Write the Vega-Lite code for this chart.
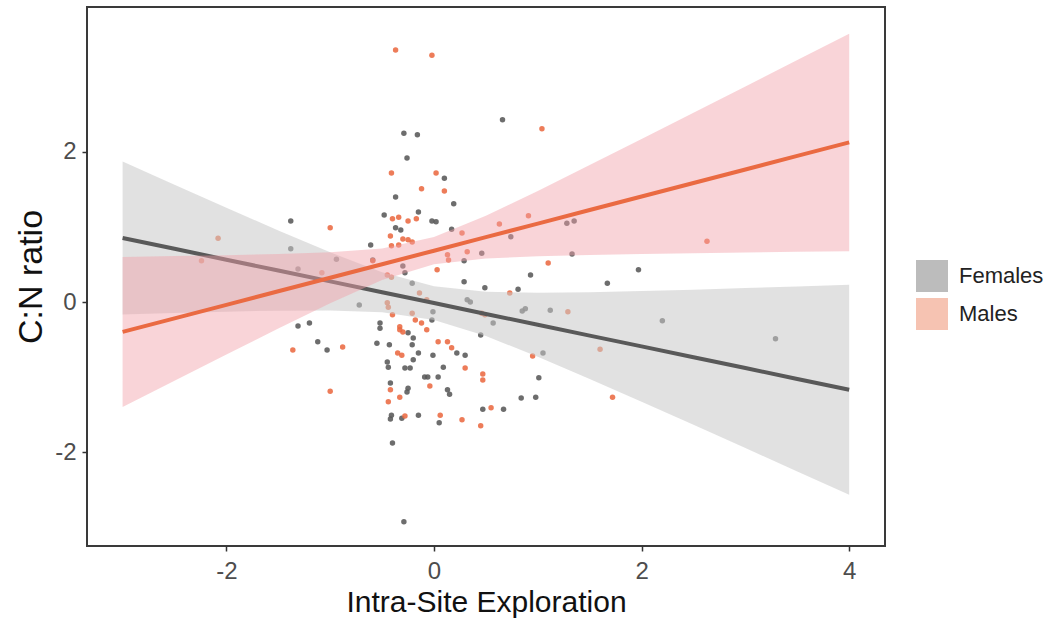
{
  "$schema": "https://vega.github.io/schema/vega-lite/v6.json",
  "autosize": "none",
  "width": 798,
  "height": 539,
  "padding": {"left": 87, "top": 7, "right": 170, "bottom": 82},
  "background": "white",
  "config": {
    "view": {"stroke": "#3a3a3a", "strokeWidth": 2},
    "font": "Liberation Sans",
    "axis": {"grid": false, "domain": false, "tickColor": "#333333", "tickWidth": 1.5, "tickSize": 5, "labelFont": "Liberation Sans", "labelFontSize": 24, "labelColor": "#4d4d4d", "titleFont": "Liberation Sans", "titleFontWeight": "normal", "titleColor": "#111111"},
    "legend": {"padding": 0}
  },
  "datasets": {
    "pts": [
      {"sex": "Females", "x": -0.29, "y": 2.25}, {"sex": "Females", "x": -0.16, "y": 2.23}, {"sex": "Females", "x": -0.26, "y": 1.92}, {"sex": "Females", "x": 0.10, "y": 1.65},
      {"sex": "Females", "x": -0.37, "y": 1.40}, {"sex": "Females", "x": 0.19, "y": 1.31}, {"sex": "Females", "x": -0.48, "y": 1.16}, {"sex": "Females", "x": -0.15, "y": 1.20},
      {"sex": "Females", "x": -0.02, "y": 1.08}, {"sex": "Females", "x": 0.02, "y": 1.07}, {"sex": "Females", "x": -0.37, "y": 0.99}, {"sex": "Females", "x": -0.32, "y": 0.96},
      {"sex": "Females", "x": 0.17, "y": 0.97}, {"sex": "Females", "x": 0.66, "y": 2.43}, {"sex": "Females", "x": 1.28, "y": 1.05}, {"sex": "Females", "x": 1.35, "y": 1.08},
      {"sex": "Females", "x": 0.74, "y": 0.87}, {"sex": "Females", "x": -0.61, "y": 0.76}, {"sex": "Females", "x": -0.59, "y": 0.56}, {"sex": "Females", "x": 0.46, "y": 0.65},
      {"sex": "Females", "x": 0.29, "y": 0.55}, {"sex": "Females", "x": 1.33, "y": 0.64}, {"sex": "Females", "x": 0.93, "y": 0.36}, {"sex": "Females", "x": -0.30, "y": 0.48},
      {"sex": "Females", "x": -0.28, "y": 0.39}, {"sex": "Females", "x": -0.21, "y": 0.25}, {"sex": "Females", "x": 0.29, "y": 0.27}, {"sex": "Females", "x": 0.49, "y": 0.19},
      {"sex": "Females", "x": 0.81, "y": 0.17}, {"sex": "Females", "x": 0.32, "y": 0.03}, {"sex": "Females", "x": 0.35, "y": 0.00}, {"sex": "Females", "x": -0.01, "y": -0.13},
      {"sex": "Females", "x": -0.02, "y": -0.24}, {"sex": "Females", "x": 0.57, "y": -0.28}, {"sex": "Females", "x": 0.85, "y": -0.12}, {"sex": "Females", "x": 0.88, "y": -0.09},
      {"sex": "Females", "x": 1.12, "y": -0.11}, {"sex": "Females", "x": -0.72, "y": -0.04}, {"sex": "Females", "x": -0.52, "y": -0.28}, {"sex": "Females", "x": -0.52, "y": -0.35},
      {"sex": "Females", "x": -0.25, "y": -0.41}, {"sex": "Females", "x": -0.20, "y": -0.48}, {"sex": "Females", "x": -0.21, "y": -0.57}, {"sex": "Females", "x": -0.55, "y": -0.55},
      {"sex": "Females", "x": -0.43, "y": -0.57}, {"sex": "Females", "x": 0.22, "y": -0.68}, {"sex": "Females", "x": 0.30, "y": -0.71}, {"sex": "Females", "x": -0.15, "y": -0.68},
      {"sex": "Females", "x": -0.01, "y": -0.71}, {"sex": "Females", "x": -0.45, "y": -0.80}, {"sex": "Females", "x": -0.44, "y": -0.87}, {"sex": "Females", "x": -0.20, "y": -0.77},
      {"sex": "Females", "x": -0.28, "y": -0.88}, {"sex": "Females", "x": -0.23, "y": -0.88}, {"sex": "Females", "x": 0.09, "y": -0.87}, {"sex": "Females", "x": -0.09, "y": -1.00},
      {"sex": "Females", "x": -0.06, "y": -1.00}, {"sex": "Females", "x": 0.04, "y": -1.00}, {"sex": "Females", "x": -0.42, "y": -1.08}, {"sex": "Females", "x": 0.13, "y": -1.17},
      {"sex": "Females", "x": 0.15, "y": -1.23}, {"sex": "Females", "x": -0.25, "y": -1.15}, {"sex": "Females", "x": -0.26, "y": -1.20}, {"sex": "Females", "x": -0.41, "y": -1.51},
      {"sex": "Females", "x": -0.42, "y": -1.56}, {"sex": "Females", "x": -0.31, "y": -1.55}, {"sex": "Females", "x": -0.15, "y": -1.51}, {"sex": "Females", "x": 0.05, "y": -1.61},
      {"sex": "Females", "x": -0.40, "y": -1.88}, {"sex": "Females", "x": -0.29, "y": -2.93}, {"sex": "Females", "x": 0.45, "y": -0.44}, {"sex": "Females", "x": 1.05, "y": -0.68},
      {"sex": "Females", "x": 1.01, "y": -1.01}, {"sex": "Females", "x": 0.84, "y": -1.28}, {"sex": "Females", "x": 0.98, "y": -1.27}, {"sex": "Females", "x": 0.47, "y": -1.43},
      {"sex": "Females", "x": 0.67, "y": -1.43}, {"sex": "Females", "x": 1.97, "y": 0.43}, {"sex": "Females", "x": 1.67, "y": 0.25}, {"sex": "Females", "x": 2.20, "y": -0.25},
      {"sex": "Females", "x": 3.29, "y": -0.49}, {"sex": "Females", "x": -1.38, "y": 1.08}, {"sex": "Females", "x": -1.38, "y": 0.71}, {"sex": "Females", "x": -0.94, "y": 0.57},
      {"sex": "Females", "x": -1.31, "y": 0.44}, {"sex": "Females", "x": -1.31, "y": -0.32}, {"sex": "Females", "x": -1.20, "y": -0.28}, {"sex": "Females", "x": -1.12, "y": -0.53},
      {"sex": "Females", "x": -1.03, "y": -0.64},
      {"sex": "Males", "x": -0.37, "y": 3.36}, {"sex": "Males", "x": -0.02, "y": 3.29}, {"sex": "Males", "x": 1.04, "y": 2.31}, {"sex": "Males", "x": -0.41, "y": 1.72},
      {"sex": "Males", "x": 0.02, "y": 1.72}, {"sex": "Males", "x": -0.12, "y": 1.51}, {"sex": "Males", "x": 0.10, "y": 1.48}, {"sex": "Males", "x": -0.40, "y": 1.11},
      {"sex": "Males", "x": -0.34, "y": 1.13}, {"sex": "Males", "x": -0.25, "y": 1.08}, {"sex": "Males", "x": -0.17, "y": 1.11}, {"sex": "Males", "x": 0.63, "y": 1.04},
      {"sex": "Males", "x": 0.91, "y": 1.15}, {"sex": "Males", "x": 0.27, "y": 0.92}, {"sex": "Males", "x": -0.42, "y": 0.88}, {"sex": "Males", "x": -0.30, "y": 0.84},
      {"sex": "Males", "x": -0.25, "y": 0.83}, {"sex": "Males", "x": -0.21, "y": 0.80}, {"sex": "Males", "x": -0.41, "y": 0.75}, {"sex": "Males", "x": -0.34, "y": 0.76},
      {"sex": "Males", "x": 0.13, "y": 0.63}, {"sex": "Males", "x": 0.14, "y": 0.56}, {"sex": "Males", "x": 0.32, "y": 0.67}, {"sex": "Males", "x": 0.03, "y": 0.43},
      {"sex": "Males", "x": -0.45, "y": 0.36}, {"sex": "Males", "x": -0.41, "y": 0.33}, {"sex": "Males", "x": -0.14, "y": 0.12}, {"sex": "Males", "x": -0.07, "y": 0.03},
      {"sex": "Males", "x": -0.45, "y": -0.01}, {"sex": "Males", "x": -0.44, "y": -0.07}, {"sex": "Males", "x": -0.40, "y": -0.17}, {"sex": "Males", "x": -0.21, "y": -0.15},
      {"sex": "Males", "x": -0.18, "y": -0.24}, {"sex": "Males", "x": -0.12, "y": -0.28}, {"sex": "Males", "x": -0.33, "y": -0.33}, {"sex": "Males", "x": -0.33, "y": -0.37},
      {"sex": "Males", "x": -0.30, "y": -0.40}, {"sex": "Males", "x": -0.07, "y": -0.37}, {"sex": "Males", "x": 1.10, "y": 0.52}, {"sex": "Males", "x": 0.73, "y": 0.12},
      {"sex": "Males", "x": 0.46, "y": -0.15}, {"sex": "Males", "x": 0.49, "y": -0.17}, {"sex": "Males", "x": 1.29, "y": -0.13}, {"sex": "Males", "x": 0.04, "y": -0.53},
      {"sex": "Males", "x": 0.13, "y": -0.53}, {"sex": "Males", "x": 0.17, "y": -0.61}, {"sex": "Males", "x": -0.35, "y": -0.68}, {"sex": "Males", "x": -0.31, "y": -0.71},
      {"sex": "Males", "x": 0.30, "y": -0.88}, {"sex": "Males", "x": -0.04, "y": -1.12}, {"sex": "Males", "x": -0.42, "y": -1.17}, {"sex": "Males", "x": -0.33, "y": -1.27},
      {"sex": "Males", "x": -0.44, "y": -1.33}, {"sex": "Males", "x": -0.28, "y": -1.52}, {"sex": "Males", "x": 0.06, "y": -1.51}, {"sex": "Males", "x": 0.27, "y": -1.57},
      {"sex": "Males", "x": 0.45, "y": -1.65}, {"sex": "Males", "x": 0.95, "y": -0.72}, {"sex": "Males", "x": 0.47, "y": -0.96}, {"sex": "Males", "x": 0.47, "y": -1.04},
      {"sex": "Males", "x": 0.55, "y": -1.41}, {"sex": "Males", "x": 1.60, "y": -0.63}, {"sex": "Males", "x": 1.72, "y": -1.27}, {"sex": "Males", "x": 2.63, "y": 0.81},
      {"sex": "Males", "x": -1.00, "y": 0.99}, {"sex": "Males", "x": -2.08, "y": 0.85}, {"sex": "Males", "x": -2.24, "y": 0.55}, {"sex": "Males", "x": -0.59, "y": 0.55},
      {"sex": "Males", "x": -0.88, "y": -0.60}, {"sex": "Males", "x": -1.36, "y": -0.64}, {"sex": "Males", "x": -1.00, "y": -1.19}, {"sex": "Males", "x": -1.08, "y": 0.39}
    ],
    "fit": [
      {"sex": "Females", "x": -3.0, "fit": 0.853, "lo": -0.167, "hi": 1.873},
      {"sex": "Females", "x": -2.5, "fit": 0.709, "lo": -0.147, "hi": 1.564},
      {"sex": "Females", "x": -2.0, "fit": 0.564, "lo": -0.129, "hi": 1.257},
      {"sex": "Females", "x": -1.5, "fit": 0.420, "lo": -0.115, "hi": 0.954},
      {"sex": "Females", "x": -1.0, "fit": 0.275, "lo": -0.112, "hi": 0.662},
      {"sex": "Females", "x": -0.5, "fit": 0.131, "lo": -0.137, "hi": 0.398},
      {"sex": "Females", "x": 0.0, "fit": -0.014, "lo": -0.239, "hi": 0.211},
      {"sex": "Females", "x": 0.5, "fit": -0.159, "lo": -0.454, "hi": 0.137},
      {"sex": "Females", "x": 1.0, "fit": -0.303, "lo": -0.730, "hi": 0.124},
      {"sex": "Females", "x": 1.5, "fit": -0.448, "lo": -1.026, "hi": 0.131},
      {"sex": "Females", "x": 2.0, "fit": -0.592, "lo": -1.330, "hi": 0.146},
      {"sex": "Females", "x": 2.5, "fit": -0.737, "lo": -1.638, "hi": 0.165},
      {"sex": "Females", "x": 3.0, "fit": -0.881, "lo": -1.948, "hi": 0.186},
      {"sex": "Females", "x": 3.5, "fit": -1.026, "lo": -2.259, "hi": 0.208},
      {"sex": "Females", "x": 4.0, "fit": -1.170, "lo": -2.571, "hi": 0.231},
      {"sex": "Males", "x": -3.0, "fit": -0.399, "lo": -1.399, "hi": 0.601},
      {"sex": "Males", "x": -2.5, "fit": -0.219, "lo": -1.049, "hi": 0.612},
      {"sex": "Males", "x": -2.0, "fit": -0.038, "lo": -0.700, "hi": 0.624},
      {"sex": "Males", "x": -1.5, "fit": 0.143, "lo": -0.354, "hi": 0.639},
      {"sex": "Males", "x": -1.0, "fit": 0.323, "lo": -0.017, "hi": 0.663},
      {"sex": "Males", "x": -0.5, "fit": 0.504, "lo": 0.293, "hi": 0.714},
      {"sex": "Males", "x": 0.0, "fit": 0.684, "lo": 0.503, "hi": 0.865},
      {"sex": "Males", "x": 0.5, "fit": 0.865, "lo": 0.579, "hi": 1.150},
      {"sex": "Males", "x": 1.0, "fit": 1.045, "lo": 0.609, "hi": 1.481},
      {"sex": "Males", "x": 1.5, "fit": 1.226, "lo": 0.626, "hi": 1.825},
      {"sex": "Males", "x": 2.0, "fit": 1.406, "lo": 0.639, "hi": 2.173},
      {"sex": "Males", "x": 2.5, "fit": 1.587, "lo": 0.650, "hi": 2.523},
      {"sex": "Males", "x": 3.0, "fit": 1.767, "lo": 0.660, "hi": 2.874},
      {"sex": "Males", "x": 3.5, "fit": 1.948, "lo": 0.669, "hi": 3.226},
      {"sex": "Males", "x": 4.0, "fit": 2.128, "lo": 0.678, "hi": 3.578}
    ]
  },
  "layer": [
    {
      "data": {"name": "pts"},
      "mark": {"type": "circle", "size": 30, "opacity": 0.88},
      "encoding": {
        "x": {"field": "x", "type": "quantitative", "scale": {"domain": [-3.343, 4.345], "nice": false, "zero": false}, "axis": {"values": [-2, 0, 2, 4], "labelExpr": "'' + datum.value", "labelPadding": 8, "title": "Intra-Site Exploration", "titleFontSize": 30, "titlePadding": 4}},
        "y": {"field": "y", "type": "quantitative", "scale": {"domain": [-3.253, 3.933], "nice": false, "zero": false}, "axis": {"values": [-2, 0, 2], "labelExpr": "'' + datum.value", "labelPadding": 6, "title": "C:N ratio", "titleFontSize": 34, "titlePadding": 6}},
        "color": {"field": "sex", "type": "nominal", "scale": {"domain": ["Females", "Males"], "range": ["#595959", "#ea6a42"]},
          "legend": {"title": null, "orient": "none", "legendX": 829, "legendY": 253, "symbolType": "square", "symbolSize": 900, "symbolOpacity": 0.4, "symbolStrokeWidth": 2, "labelFontSize": 22, "labelFont": "Liberation Sans", "labelColor": "#222222", "rowPadding": 0, "labelOffset": 11}}
      }
    },
    {
      "data": {"name": "fit"},
      "transform": [{"filter": "datum.sex === 'Females'"}],
      "mark": {"type": "area", "color": "#c8c8c8", "opacity": 0.55},
      "encoding": {
        "x": {"field": "x", "type": "quantitative"},
        "y": {"field": "lo", "type": "quantitative"},
        "y2": {"field": "hi"}
      }
    },
    {
      "data": {"name": "fit"},
      "transform": [{"filter": "datum.sex === 'Females'"}],
      "mark": {"type": "line", "strokeWidth": 4},
      "encoding": {
        "x": {"field": "x", "type": "quantitative"},
        "y": {"field": "fit", "type": "quantitative"},
        "color": {"field": "sex", "type": "nominal"}
      }
    },
    {
      "data": {"name": "fit"},
      "transform": [{"filter": "datum.sex === 'Males'"}],
      "mark": {"type": "area", "color": "#f2a0a8", "opacity": 0.45},
      "encoding": {
        "x": {"field": "x", "type": "quantitative"},
        "y": {"field": "lo", "type": "quantitative"},
        "y2": {"field": "hi"}
      }
    },
    {
      "data": {"name": "fit"},
      "transform": [{"filter": "datum.sex === 'Males'"}],
      "mark": {"type": "line", "strokeWidth": 4},
      "encoding": {
        "x": {"field": "x", "type": "quantitative"},
        "y": {"field": "fit", "type": "quantitative"},
        "color": {"field": "sex", "type": "nominal"}
      }
    }
  ]
}
